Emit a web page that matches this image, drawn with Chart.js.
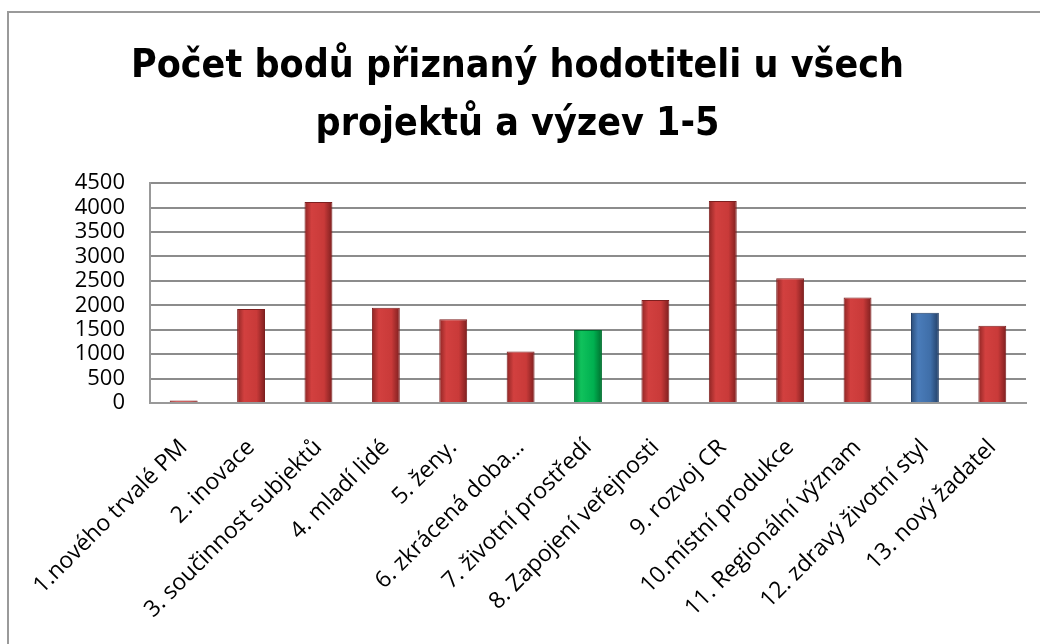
<!DOCTYPE html>
<html>
<head>
<meta charset="utf-8">
<script src="https://cdn.jsdelivr.net/npm/chart.js@4"></script>
<style>
    html, body { margin: 0; padding: 0; background: #fff; }
    #box { position: absolute; left: 7px; top: 11px; width: 1040px; height: 640px; border: 2px solid #9a9a9a; }
    #wrap { position: absolute; left: 0; top: 0; width: 1031px; height: 631px; }
</style>
</head>
<body>
<div id="box"><div id="wrap"><canvas id="chart"></canvas></div></div>
<script>
// chart data
const titleLines = ['Počet bodů přiznaný hodotiteli u všech', 'projektů a výzev 1-5'];
const categories = [
    '1.nového trvalé PM',
    '2. inovace',
    '3. součinnost subjektů',
    '4. mladí lidé',
    '5. ženy.',
    '6. zkrácená doba…',
    '7. životní prostředí',
    '8. Zapojení veřejnosti',
    '9. rozvoj CR',
    '10.místní produkce',
    '11. Regionální význam',
    '12. zdravý životní styl',
    '13. nový žadatel'
];
const points = [50, 1925, 4115, 1950, 1715, 1055, 1495, 2110, 4135, 2555, 2160, 1850, 1580];
const yTicks = [0, 500, 1000, 1500, 2000, 2500, 3000, 3500, 4000, 4500];

// colour of each bar (red default, one green, one blue)
const barKind = ['red', 'red', 'red', 'red', 'red', 'red', 'green', 'red', 'red', 'red', 'red', 'blue', 'red'];
const palette = {
    red: ['#8e2524', '#d2403f', '#c93a39', '#7d1f1f'],
    green: ['#00803a', '#10c25c', '#00b050', '#00702f'],
    blue: ['#2a4c78', '#4a7cba', '#3f6ea8', '#233f66']
};

const barPct = 0.9;
const catPct = 0.46;

function barFill(context) {
    const chart = context.chart;
    const xs = chart.scales.x;
    const c = palette[barKind[context.dataIndex]];
    if (!xs) return c[2];
    const cx = xs.getPixelForValue(context.dataIndex);
    const half = xs.width / categories.length * barPct * catPct / 2;
    if (!isFinite(cx) || !isFinite(half) || half <= 0) return c[2];
    const g = chart.ctx.createLinearGradient(cx - half, 0, cx + half, 0);
    g.addColorStop(0, c[0]);
    g.addColorStop(0.25, c[1]);
    g.addColorStop(0.7, c[2]);
    g.addColorStop(1, c[3]);
    return g;
}

const ctx = document.getElementById('chart').getContext('2d');
const mychart = new Chart(ctx, {
    type: 'bar',
    data: {
        labels: categories,
        datasets: [{
            data: points,
            backgroundColor: barFill,
            borderColor: function (context) { return palette[barKind[context.dataIndex]][3]; },
            borderWidth: 1,
            barPercentage: barPct,
            categoryPercentage: catPct
        }]
    },
    options: {
        responsive: true,
        maintainAspectRatio: false,
        animation: false,
        layout: { padding: { left: 0, right: 14, top: 0, bottom: 0 } },
        plugins: {
            legend: { display: false },
            tooltip: { enabled: false },
            title: {
                display: true,
                text: titleLines,
                color: '#000',
                font: { family: '"DejaVu Sans Condensed", "Open Sans", sans-serif', size: 39, weight: 'bold', lineHeight: 1.49 },
                padding: { top: 25, bottom: 29 }
            }
        },
        scales: {
            x: {
                grid: { display: false, drawTicks: false },
                border: { display: true, color: '#999', width: 2 },
                ticks: {
                    color: '#000',
                    font: { family: '"Open Sans", sans-serif', size: 23 },
                    minRotation: 45,
                    maxRotation: 45,
                    padding: 31,
                    autoSkip: false
                },
                afterFit: function (s) {
                    s.height = 241;
                    s.paddingLeft = 0;
                    s.paddingRight = 0;
                }
            },
            y: {
                min: 0,
                max: 4500,
                afterBuildTicks: function (s) { s.ticks = yTicks.map(v => ({ value: v })); },
                grid: { color: '#8c8c8c', lineWidth: 2, drawTicks: false },
                border: { display: true, color: '#999', width: 2 },
                ticks: {
                    color: '#000',
                    font: { family: '"Open Sans", sans-serif', size: 22 },
                    padding: 25,
                    autoSkip: false,
                    callback: function (v) { return String(v); }
                },
                afterFit: function (s) { s.width = 141; }
            }
        }
    }
});
</script>
</body>
</html>
